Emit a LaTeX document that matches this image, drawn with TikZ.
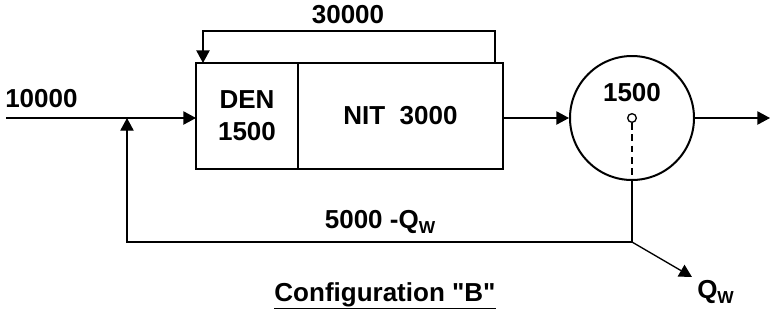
\documentclass[tikz,border=0pt]{standalone}
\usepackage{fontspec}
\setmainfont{Liberation Sans}
\usetikzlibrary{arrows.meta,positioning,calc}
\newcommand{\qsub}{Q\raisebox{-0.35ex}{\fontsize{13}{13}\selectfont W}}
\tikzset{
  unit/.style={inner sep=0pt, outer sep=0pt, align=center},
  pipe/.style={line width=1pt},
  flow/.style={pipe, -{Triangle[length=9.5pt,width=10pt]}},
  lbl/.style={inner sep=0pt},
}

\begin{document}
\begin{tikzpicture}[x=0.75pt, y=-0.75pt, font=\bfseries\fontsize{19.5}{24}\selectfont]
\useasboundingbox (0,0) rectangle (771,333);
% reactor: anoxic + aerobic zones
\node[unit, minimum width=76.5pt, minimum height=79.5pt] (den) at (247,116) {DEN\\1500};
\node[unit, minimum width=153.75pt, minimum height=79.5pt, anchor=west] (nit) at (den.east) {NIT\ \ 3000};
\draw[line width=1.6pt] (den.north west) rectangle (nit.south east);
\draw[line width=0.8pt] (den.north east) -- (den.south east);
% clarifier
\node[draw, circle, line width=1.5pt, minimum size=93pt, inner sep=0pt] (clar) at (632,118) {};
\node[lbl] (clarvol) at (632,93) {1500};
\node[draw, circle, line width=1pt, minimum size=6.5pt, inner sep=0pt] (weir) at (632,118) {};
% points on the lines
\coordinate (in) at (6,118);
\coordinate (jn) at (127,118);
\coordinate (fb) at (127,242);
\coordinate (split) at (632,242);
\coordinate (out) at (770,118);
\coordinate (qw) at (692,277);
\coordinate (ra) at (495,31);
\coordinate (rb) at (203,31);
% flows
\draw[flow] (in) -- (in -| den.west);
\draw[flow] (nit.east |- clar) -- (clar);
\draw[flow] (clar) -- (out);
\draw[flow] (ra |- nit.north) -- (ra) -- (rb) -- (rb |- den.north);
\draw[pipe, dash pattern=on 5pt off 3.5pt] (weir.south) -- (clar.south);
\draw[pipe] (clar.south) -- (split);
\draw[flow] (split) -- (fb) -- (jn);
\draw[flow] (split) -- (qw);
% labels
\node[lbl, anchor=west] (feed) at (5,99) {10000};
\node[lbl] (rlbl) at (348,15) {30000};
\node[lbl] (rasl) at (380,222) {5000 -\qsub};
\node[lbl, anchor=west] (wasl) at (697,292) {\qsub};
\node[lbl] (title) at (385,296) {\underline{Configuration \textquotedbl B\textquotedbl}};
\end{tikzpicture}
\end{document}
